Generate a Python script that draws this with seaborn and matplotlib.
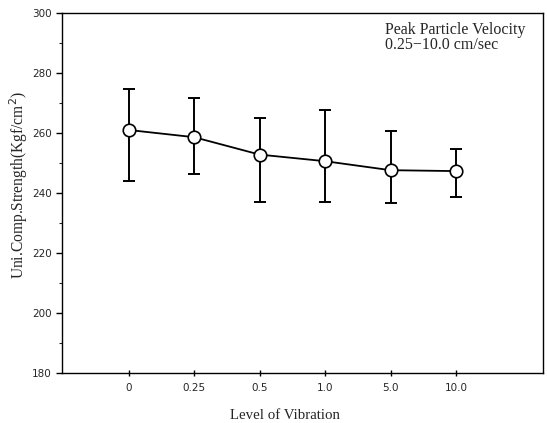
import numpy as np
import pandas as pd
import matplotlib
matplotlib.use('Agg')
import matplotlib.pyplot as plt
import seaborn as sns

# уровни вибрации и прочность на сжатие
levels = ['0', '0.25', '0.5', '1.0', '5.0', '10.0']
strength = [261.0, 258.6, 252.8, 250.6, 247.6, 247.3]
err_upper = [274.5, 271.6, 265.1, 267.7, 260.7, 254.6]
err_lower = [244.0, 246.2, 237.1, 237.1, 236.8, 238.8]

df = pd.DataFrame({'level': levels, 'strength': strength,
                   'hi': err_upper, 'lo': err_lower})
df['pos'] = np.arange(len(df))

sns.set_style('ticks')
plt.rcParams['font.family'] = ['DejaVu Sans']

fig = plt.figure(figsize=(5.47, 4.23), dpi=100)
ax = fig.add_axes([0.1133, 0.1182, 0.8794, 0.8511])

# планки погрешностей
ax.errorbar(df['pos'], df['strength'],
            yerr=[df['strength'] - df['lo'], df['hi'] - df['strength']],
            fmt='none', ecolor='black', elinewidth=1.4, capsize=4, capthick=1.4, zorder=1)

sns.lineplot(data=df, x='pos', y='strength', ax=ax, color='black', linewidth=1.3,
             marker='o', markersize=9, markerfacecolor='white', markeredgecolor='black',
             markeredgewidth=1.2, zorder=3)

ax.set_xlim(-1.02, 6.33)
ax.set_ylim(180, 300)
ax.set_xticks(df['pos'])
ax.set_xticklabels(df['level'])
ax.set_yticks(np.arange(180, 301, 20))
ax.set_yticks(np.arange(190, 300, 20), minor=True)
ax.tick_params(axis='both', which='major', labelsize=7.5, length=4, width=1, direction='out', color='black')
ax.tick_params(axis='y', which='minor', length=2, width=0.8)
ax.tick_params(axis='x', direction='inout', length=4, pad=5)

for s in ax.spines.values():
    s.set_linewidth(1.0)
    s.set_color('black')

serif = ['Liberation Serif', 'DejaVu Serif']
ax.set_xlabel('Level of Vibration', family=serif, fontsize=10.7)
ax.xaxis.set_label_coords(0.464, -0.1)
ax.set_ylabel('Uni.Comp.Strength(Kgf/cm$^2$)', family=serif, fontsize=11.2)
ax.yaxis.set_label_coords(-0.067, 0.522)

ax.text(0.671, 0.975, 'Peak Particle Velocity\n0.25\u221210.0 cm/sec', transform=ax.transAxes,
        family=serif, fontsize=11.5, va='top', ha='left', linespacing=0.95)

fig.savefig('out.png', dpi=100)
